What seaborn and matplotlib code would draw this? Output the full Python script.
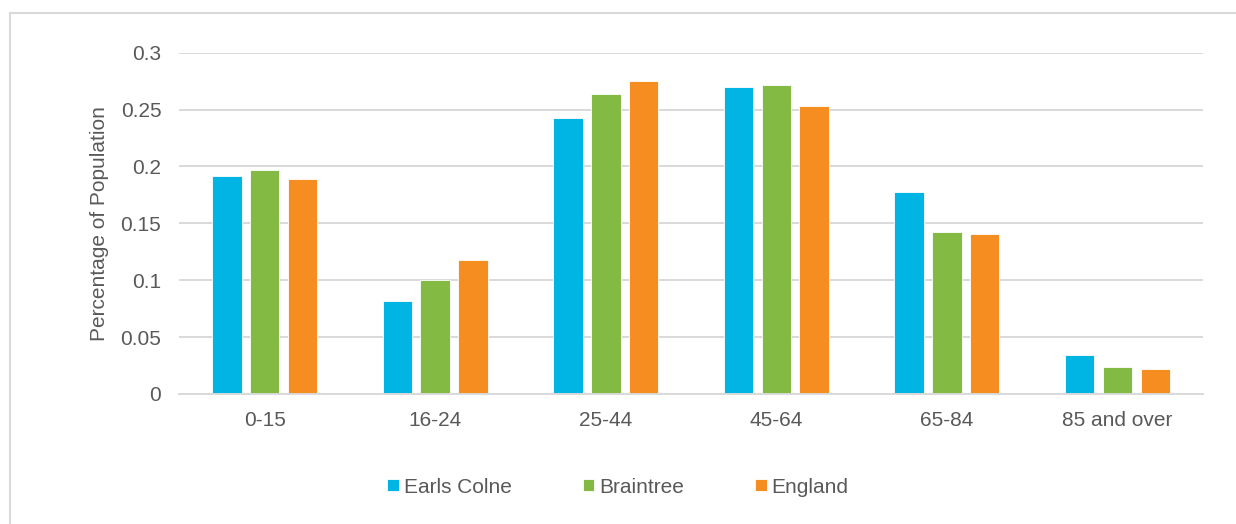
import matplotlib
matplotlib.use("Agg")
import matplotlib.pyplot as plt
from matplotlib.patches import Rectangle
from matplotlib.ticker import FuncFormatter
import seaborn as sns
import pandas as pd

# Age bands and the share of population in each, by area
age_groups = ["0-15", "16-24", "25-44", "45-64", "65-84", "85 and over"]
earls_colne = [0.192, 0.082, 0.243, 0.270, 0.178, 0.034]
braintree = [0.197, 0.100, 0.264, 0.272, 0.142, 0.024]
england = [0.189, 0.118, 0.275, 0.253, 0.141, 0.022]
areas = ["Earls Colne", "Braintree", "England"]
colors = ["#00B4E4", "#82BA44", "#F58D21"]
y_ticks = [0, 0.05, 0.1, 0.15, 0.2, 0.25, 0.3]

df = pd.DataFrame({
    "Age": age_groups * 3,
    "Area": [a for a in areas for _ in age_groups],
    "Share": earls_colne + braintree + england,
})

sns.set_theme(style="white")
plt.rcParams["font.family"] = ["Liberation Sans", "DejaVu Sans"]
text_color = "#595959"
grid_color = "#D9D9D9"
fs = 15

fig = plt.figure(figsize=(12.36, 5.24), dpi=100)
ax = fig.add_axes([0.1451, 0.2481, 0.8280, 0.6513])

sns.barplot(data=df, x="Age", y="Share", hue="Area", order=age_groups,
            hue_order=areas, palette=colors, width=0.665, gap=0.22,
            edgecolor="white", linewidth=0.6, saturation=1, ax=ax, legend=True)

ax.set_ylim(0, 0.3)
ax.set_yticks(y_ticks)
ax.yaxis.set_major_formatter(FuncFormatter(lambda v, p: f"{v:g}"))
ax.set_xlim(-0.5, len(age_groups) - 0.5)
ax.grid(axis="y", color=grid_color, linewidth=1.4)
ax.set_axisbelow(True)
for side in ["top", "right", "left"]:
    ax.spines[side].set_visible(False)
ax.spines["bottom"].set_color(grid_color)
ax.spines["bottom"].set_linewidth(1.4)
ax.tick_params(axis="both", length=0, labelsize=fs, labelcolor=text_color)
ax.tick_params(axis="y", pad=13)
ax.tick_params(axis="x", pad=12)
ax.set_xlabel("")
ax.set_ylabel("Percentage of Population", fontsize=fs, color=text_color)
ax.yaxis.set_label_coords(-0.069, 0.5)

handles, labels = ax.get_legend_handles_labels()
ax.get_legend().remove()
fig.legend(handles, labels, loc="center", bbox_to_anchor=(0.5, 0.0706),
           ncol=3, frameon=False, fontsize=fs, labelcolor=text_color,
           handlelength=0.55, handleheight=0.55, handletextpad=0.25,
           columnspacing=3.4)

# Chart-area frame
fig.patches.append(Rectangle((9.5 / 1236, -0.1), 1.2, 1 - 12.5 / 524 + 0.1,
                             transform=fig.transFigure, fill=False,
                             edgecolor=grid_color, linewidth=1.5))

fig.savefig("out.png", dpi=100)
